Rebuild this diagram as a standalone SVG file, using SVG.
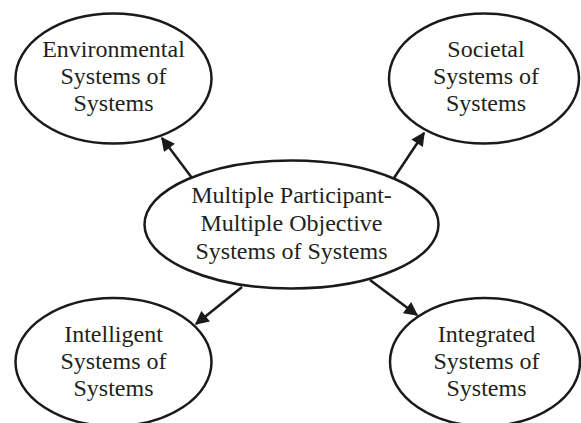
<svg xmlns="http://www.w3.org/2000/svg" width="581" height="423" viewBox="0 0 581 423">
<defs>
<style>
.node ellipse{fill:#fff;stroke:#1a1a1a;stroke-width:2.5}
.node text{font-family:"Liberation Serif","Times New Roman",serif;font-size:24px;fill:#231f20;text-anchor:middle}
.conn line{stroke:#1a1a1a;stroke-width:2.5;marker-end:url(#arr)}
</style>
<marker id="arr" viewBox="0 0 10 10" refX="9" refY="5" markerWidth="6" markerHeight="5.5" orient="auto" markerUnits="strokeWidth">
<path d="M0,0 L10,5 L0,10 z" fill="#1a1a1a"/>
</marker>
</defs>
<rect width="581" height="423" fill="#fff"/>
<g id="connectors" class="conn">
<line x1="192" y1="178" x2="162" y2="138"/>
<line x1="394" y1="178" x2="424" y2="133"/>
<line x1="242" y1="287" x2="196" y2="324"/>
<line x1="370" y1="280" x2="417" y2="315"/>
</g>
<g id="center" class="node">
<ellipse cx="291.5" cy="224.5" rx="147" ry="64"/>
<text x="291.5" y="203">Multiple Participant-</text>
<text x="291.5" y="231">Multiple Objective</text>
<text x="291.5" y="259">Systems of Systems</text>
</g>
<g id="environmental" class="node">
<ellipse cx="113.5" cy="78.5" rx="98" ry="65"/>
<text x="113.5" y="57">Environmental</text>
<text x="113.5" y="84">Systems of</text>
<text x="113.5" y="111">Systems</text>
</g>
<g id="societal" class="node">
<ellipse cx="484" cy="78.5" rx="95" ry="65"/>
<text x="486" y="57">Societal</text>
<text x="486" y="84">Systems of</text>
<text x="486" y="111">Systems</text>
</g>
<g id="intelligent" class="node">
<ellipse cx="113.5" cy="362" rx="98" ry="64"/>
<text x="113.5" y="342">Intelligent</text>
<text x="113.5" y="369">Systems of</text>
<text x="113.5" y="396">Systems</text>
</g>
<g id="integrated" class="node">
<ellipse cx="485" cy="362" rx="95" ry="64"/>
<text x="486.5" y="342">Integrated</text>
<text x="486.5" y="369">Systems of</text>
<text x="486.5" y="396">Systems</text>
</g>
</svg>
